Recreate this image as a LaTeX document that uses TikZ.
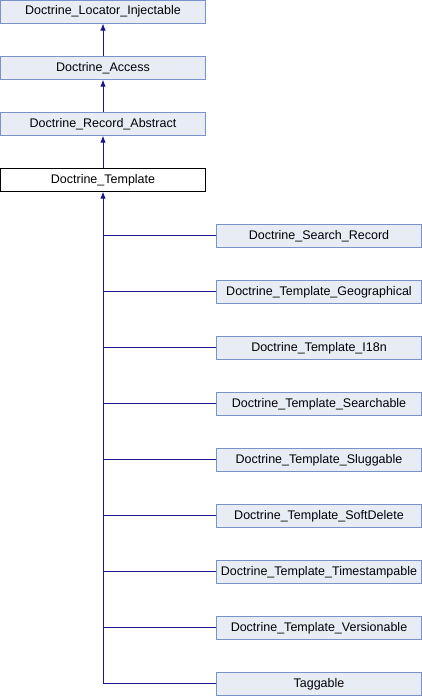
\documentclass[tikz,border=0pt]{standalone}
\usepackage{fontspec}
\setmainfont{Liberation Sans}
\usetikzlibrary{arrows.meta}
\definecolor{boxfill}{RGB}{232,236,245}
\definecolor{boxline}{RGB}{122,146,200}
\definecolor{edgecol}{RGB}{25,25,140}
\tikzset{
  cls/.style={draw=boxline, fill=boxfill, line width=1pt, minimum width=205pt, minimum height=22.6pt, inner sep=0pt, font=\fontsize{12.5pt}{14pt}\selectfont},
  cur/.style={cls, draw=black, fill=white},
  link/.style={draw=edgecol, line width=1pt},
  edge/.style={link, -{Latex[length=7pt,width=5.5pt]}}
}
\begin{document}
\begin{tikzpicture}[x=1pt,y=1pt]
\useasboundingbox (0,0) rectangle (422,-696);
\node[cls] (a) at (103,-11.7) {Doctrine\_Locator\_Injectable};
\node[cls] (b) at (103,-67.8) {Doctrine\_Access};
\node[cls] (c) at (103,-123.8) {Doctrine\_Record\_Abstract};
\node[cur] (t) at (103,-179.8) {Doctrine\_Template};
\node[cls] (k1) at (319,-235.8) {Doctrine\_Search\_Record};
\node[cls] (k2) at (319,-291.8) {Doctrine\_Template\_Geographical};
\node[cls] (k3) at (319,-347.8) {Doctrine\_Template\_I18n};
\node[cls] (k4) at (319,-403.8) {Doctrine\_Template\_Searchable};
\node[cls] (k5) at (319,-459.8) {Doctrine\_Template\_Sluggable};
\node[cls] (k6) at (319,-515.8) {Doctrine\_Template\_SoftDelete};
\node[cls] (k7) at (319,-571.8) {Doctrine\_Template\_Timestampable};
\node[cls] (k8) at (319,-627.8) {Doctrine\_Template\_Versionable};
\node[cls] (k9) at (319,-683.8) {Taggable};
\draw[edge] (b) -- (a);
\draw[edge] (c) -- (b);
\draw[edge] (t) -- (c);
\draw[edge] (k9.west) -| (t.south);
\foreach \k in {k1,k2,k3,k4,k5,k6,k7,k8}{
  \draw[link] (\k.west) -- (\k.west -| t.south);
}
\end{tikzpicture}
\end{document}
